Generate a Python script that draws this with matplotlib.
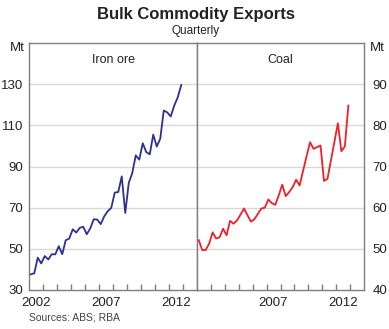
import numpy as np
import matplotlib
matplotlib.use("Agg")
import matplotlib.pyplot as plt

plt.rcParams['font.family'] = ['Liberation Sans', 'DejaVu Sans']

# Quarterly export volumes, Mt (March 2002 quarter onwards)
start_year = 2002
iron_ore = [37.6, 38.1, 45.7, 42.9, 46.5, 44.8, 47.4, 47.3, 51.3, 47.4,
            54.2, 55.0, 59.5, 57.9, 60.2, 60.7, 57.1, 59.9, 64.4, 64.2,
            62.0, 65.8, 68.3, 69.9, 77.3, 77.6, 85.2, 67.4, 82.0, 86.8,
            95.4, 93.3, 101.3, 97.0, 95.9, 105.5, 99.7, 103.5, 117.2, 116.3,
            114.3, 119.6, 123.6, 129.6]
coal = [52.1, 49.7, 49.7, 51.3, 54.0, 52.5, 52.8, 54.9, 53.3, 56.8,
        56.1, 56.9, 58.3, 59.8, 58.2, 56.6, 57.2, 58.5, 59.8, 60.0,
        62.0, 61.1, 60.7, 63.0, 65.6, 62.8, 63.8, 65.0, 66.8, 65.4,
        69.0, 72.5, 75.9, 74.3, 74.7, 75.1, 66.5, 67.0, 71.5, 76.0,
        80.5, 73.7, 74.9, 84.8]

left_ticks = [30, 50, 70, 90, 110, 130]
right_ticks = [40, 50, 60, 70, 80, 90]
year_labels = [2002, 2007, 2012]

quarters = start_year + 0.125 + 0.25 * np.arange(len(iron_ore))

W, H = 389, 329
fig = plt.figure(figsize=(W / 100, H / 100), dpi=100)

def box(x0, x1, y0, y1):
    return [x0 / W, 1 - y1 / H, (x1 - x0) / W, (y1 - y0) / H]

ax1 = fig.add_axes(box(29, 197, 43, 290))
ax2 = fig.add_axes(box(197, 364, 43, 290))

spine_c = '#7f7f7f'
grid_c = '#d9d9d9'
text_c = '#222222'

def style(ax, ylim, yticks, side):
    ax.set_xlim(2002, 2014)
    ax.set_ylim(*ylim)
    ax.set_yticks(yticks)
    for y in yticks[1:]:
        ax.axhline(y, color=grid_c, lw=1.0, zorder=0)
    for s in ax.spines.values():
        s.set_color(spine_c)
        s.set_linewidth(1.0)
    # year ticks at boundaries, labels centred within the year
    ax.set_xticks(np.arange(2003, 2014), minor=False)
    ax.set_xticklabels([])
    ax.tick_params(axis='x', which='major', direction='in', length=4,
                   color=spine_c, width=1.0)
    ax.set_xticks([y + 0.5 for y in year_labels], minor=True)
    ax.set_xticklabels([str(y) for y in year_labels], minor=True)
    ax.tick_params(axis='x', which='minor', length=0, pad=5,
                   labelsize=9.5, labelcolor=text_c)
    ax.tick_params(axis='y', length=0, labelsize=9.5, labelcolor=text_c,
                   pad=4)
    if side == 'right':
        ax.yaxis.tick_right()
        ax.tick_params(axis='y', pad=6)

style(ax1, (30, 150), left_ticks, 'left')
style(ax2, (40, 100), right_ticks, 'right')
ax2.set_xticklabels(['', '2007', '2012'], minor=True)

ax1.plot(quarters, iron_ore, color='#2e3192', lw=1.3, zorder=3)
ax2.plot(quarters, coal, color='#f0202a', lw=1.3, zorder=3)

ax1.text(0.5, 0.955, 'Iron ore', transform=ax1.transAxes, ha='center',
         va='top', fontsize=9, color=text_c)
ax2.text(0.5, 0.955, 'Coal', transform=ax2.transAxes, ha='center',
         va='top', fontsize=9, color=text_c)

fig.text(25 / W, 1 - 48 / H, 'Mt', ha='right', va='center', fontsize=9.5,
         color=text_c)
fig.text(370 / W, 1 - 48 / H, 'Mt', ha='left', va='center', fontsize=9.5,
         color=text_c)

fig.text(196 / W, 1 - 14 / H, 'Bulk Commodity Exports', ha='center',
         va='center', fontsize=12, fontweight='bold', color=text_c)
fig.text(196 / W, 1 - 31 / H, 'Quarterly', ha='center', va='center',
         fontsize=8.5, color=text_c)
fig.text(29 / W, 1 - 317 / H, 'Sources: ABS; RBA', ha='left', va='center',
         fontsize=7.5, color='#444444')

fig.savefig('out.png', dpi=100)
